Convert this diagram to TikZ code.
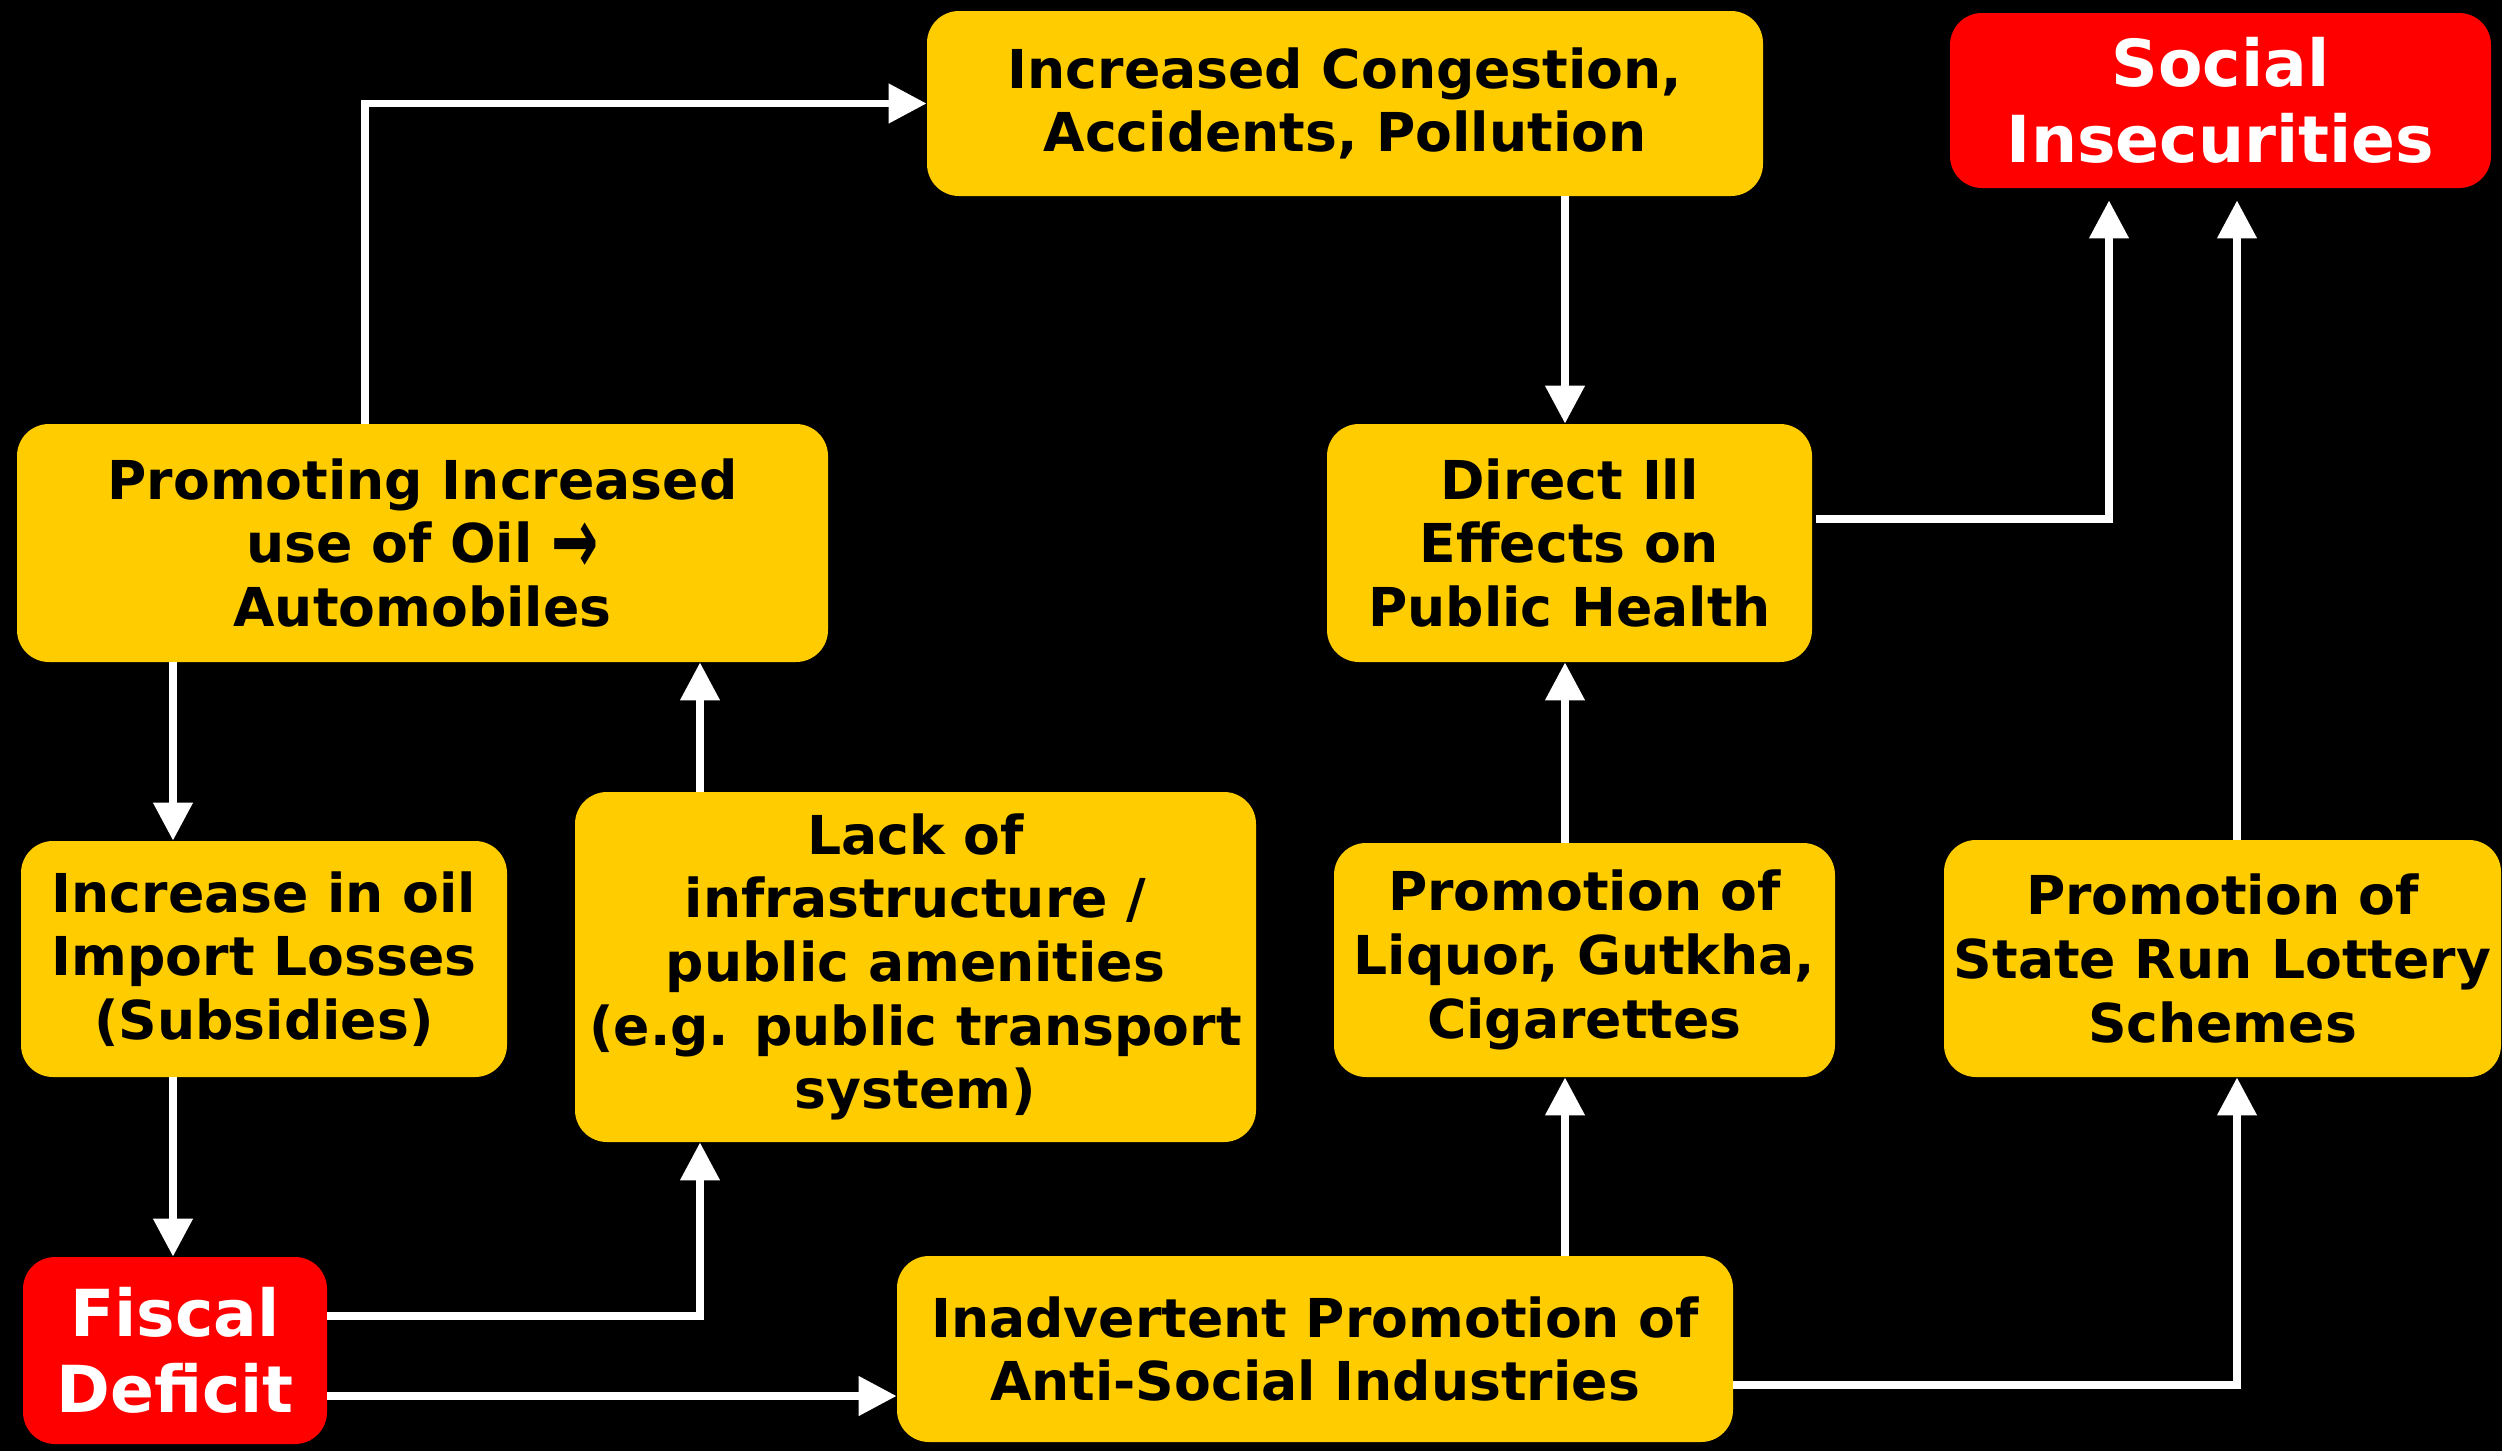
\documentclass[tikz,border=0pt]{standalone}
\usepackage{fontspec}
\usepackage{graphicx}
\setmainfont{DejaVu Sans}
\usetikzlibrary{arrows.meta,calc}
\definecolor{boxyellow}{HTML}{FFCC00}
\definecolor{boxred}{HTML}{FF0000}
\newcommand{\bigarrow}{\raisebox{-0.2em}{\scalebox{1.05}[1.75]{→}}}
\begin{document}
\begin{tikzpicture}[x=0.5pt,y=-0.5pt,
  base/.style={rectangle, rounded corners=16pt, inner sep=0pt, align=center, font=\bfseries},
  ybox/.style={base, fill=boxyellow, text=black, font=\bfseries\fontsize{26.8pt}{31.8pt}\selectfont},
  rbox/.style={base, fill=boxred, text=white, font=\bfseries\fontsize{32.4pt}{38pt}\selectfont},
  sz/.style 2 args={minimum width=#1*0.5pt, minimum height=#2*0.5pt},
  arr/.style={draw=white, line width=3.8pt, -{Triangle[length=19pt,width=19pt]}},
]
% background
\fill[black] (0,0) rectangle (2502,1451);
\useasboundingbox (0,0) rectangle (2502,1451);

% boxes
\node[ybox, sz={836}{185}] (cong) at (1345,103.5) {Increased Congestion,\\Accidents, Pollution};
\node[rbox, sz={541}{175}] (soc) at (2220.5,100.5) {Social\\Insecurities};
\node[ybox, sz={811}{238}] (prom) at (422.5,543) {Promoting Increased\\use of Oil \bigarrow\\Automobiles};
\node[ybox, sz={485}{238}] (direct) at (1569.5,543) {Direct Ill\\Effects on\\Public Health};
\node[ybox, sz={486}{236}] (oil) at (264,959) {Increase in oil\\Import Losses\\(Subsidies)};
\node[ybox, sz={681}{350}] (lack) at (915.5,967) {Lack of\\infrastructure /\\public amenities\\(e.g. public transport\\system)};
\node[ybox, sz={501}{234}] (liq) at (1584.5,960) {Promotion of\\Liquor, Gutkha,\\Cigarettes};
\node[ybox, sz={557}{237}] (lot) at (2222.5,958.5) {Promotion of\\State Run Lottery\\Schemes};
\node[rbox, sz={304}{187}] (fisc) at (175,1350.5) {Fiscal\\Deficit};
\node[ybox, sz={836}{186}] (inad) at (1315,1349) {Inadvertent Promotion of\\Anti-Social Industries};

% connector columns and rows
\coordinate (colA) at (365,103);
\coordinate (colB) at (173,0);
\coordinate (colC) at (700,0);
\coordinate (colD) at (1565,0);
\coordinate (colE) at (2109,519);
\coordinate (colF) at (2237,1385);
\coordinate (rowG) at (0,1316);
\coordinate (rowH) at (0,1396);

% connectors
\draw[arr] (prom.north -| colA) |- (cong.west);
\draw[arr] (prom.south -| colB) -- (oil.north -| colB);
\draw[arr] (oil.south -| colB) -- (fisc.north -| colB);
\draw[arr] (lack.north -| colC) -- (prom.south -| colC);
\draw[arr] (fisc.east |- rowG) -| (lack.south -| colC);
\draw[arr] (fisc.east |- rowH) -- (inad.west |- rowH);
\draw[arr] (cong.south -| colD) -- (direct.north -| colD);
\draw[arr] (inad.north -| colD) -- (liq.south -| colD);
\draw[arr] (liq.north -| colD) -- (direct.south -| colD);
\draw[arr, shorten >=6pt] ([xshift=2pt]direct.east |- colE) -| (soc.south -| colE);
\draw[arr] (inad.east |- colF) -| (lot.south -| colF);
\draw[arr, shorten >=6pt] (lot.north -| colF) -- (soc.south -| colF);
\end{tikzpicture}
\end{document}
